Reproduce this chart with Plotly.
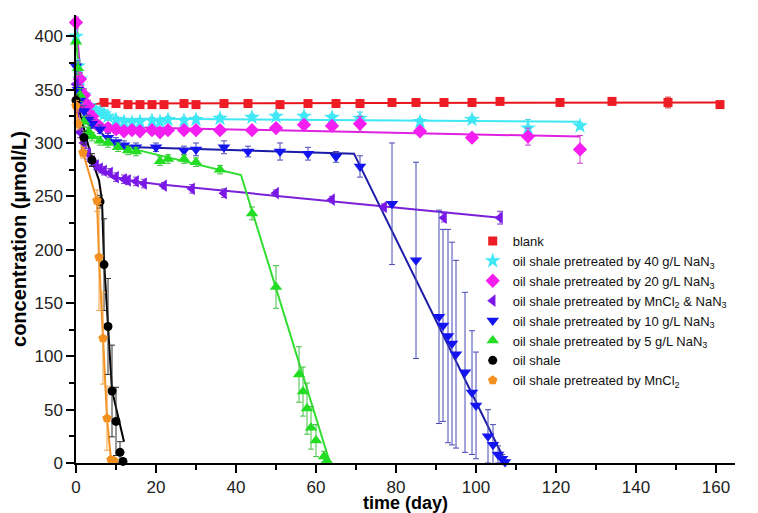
import plotly.graph_objects as go

# ---------------- data ----------------
blank_x = [1, 7, 10, 13, 16, 19, 22, 27, 30, 37, 43, 51, 58, 65, 71, 79, 85, 92, 99, 106, 121, 134, 148, 161]
blank_y = [334, 338, 337, 336, 336, 336, 336, 337, 336, 337, 337, 336, 337, 337, 337, 338, 338, 338, 338, 339, 338, 339, 338, 336]
blank_err = [3, 2, 2, 2, 2, 2, 2, 2, 2, 2, 2, 2, 2, 2, 2, 2, 2, 2, 2, 2, 2, 2, 5, 2]
blank_fit_x = [0, 6, 161]
blank_fit_y = [334, 337, 338]

na40_x = [0, 0.5, 1, 2, 3, 4, 5, 6, 7, 8, 10, 12, 14, 16, 19, 21, 23, 27, 30, 36, 44, 50, 57, 64, 71, 86, 99, 113, 126]
na40_y = [400, 372, 360, 345, 335, 331, 330, 329, 327, 325, 322, 320, 319, 320, 321, 320, 322, 321, 322, 323, 324, 325, 325, 324, 323, 320, 322, 314, 316]
na40_err = [6, 6, 5, 5, 5, 4, 4, 4, 4, 4, 3, 3, 3, 3, 3, 3, 3, 3, 3, 3, 3, 3, 3, 3, 6, 3, 3, 8, 3]
na40_fit_x = [0, 1, 2, 3, 5, 10, 126]
na40_fit_y = [405, 365, 345, 335, 328, 323, 320]

na20_x = [0, 1, 2, 3, 4, 5, 6, 8, 10, 12, 14, 16, 19, 21, 23, 27, 30, 36, 44, 50, 57, 64, 71, 86, 99, 113, 126]
na20_y = [413, 360, 345, 335, 325, 318, 315, 314, 313, 311, 312, 311, 312, 310, 312, 312, 312, 312, 312, 314, 317, 316, 318, 311, 305, 306, 294]
na20_err = [5, 6, 6, 5, 5, 4, 4, 4, 4, 3, 3, 3, 3, 3, 3, 3, 3, 3, 3, 3, 3, 3, 7, 3, 3, 8, 13]
na20_fit_x = [0, 1, 2, 3, 5, 10, 126]
na20_fit_y = [415, 370, 345, 330, 318, 315, 306]

mnna_x = [0, 0.5, 1, 2, 3, 4, 5, 6, 7, 8.5, 10, 12, 13, 15, 17, 22, 29, 37, 50, 64, 77, 92, 106]
mnna_y = [355, 335, 310, 300, 290, 283, 279, 276, 274, 272, 268, 266, 265, 264, 262, 260, 257, 253, 253, 247, 240, 230, 230]
mnna_err = [6, 6, 5, 5, 5, 4, 4, 4, 4, 4, 4, 4, 4, 4, 4, 3, 4, 4, 3, 3, 3, 4, 6]
mnna_fit_x = [0, 1, 2, 4, 7, 10, 15, 20, 106]
mnna_fit_y = [350, 310, 295, 283, 274, 268, 264, 261.5, 230]

na10_x = [0, 0.5, 1, 2, 3, 4, 6, 8, 10, 12, 15, 20, 27, 30, 37, 43, 51, 58, 65, 71, 79, 85, 90.75, 91.75, 93, 94, 95, 97.25, 99, 100, 103, 104.25, 105.5, 106.5, 107.25]
na10_y = [372, 350, 340, 330, 322, 318, 313, 305, 301, 298, 296, 296, 293, 294, 296, 292, 292, 290, 287, 278, 243, 190, 137, 129, 119, 112, 102, 85, 66, 54, 25, 17, 8, 4, 1]
na10_err = [5, 5, 5, 5, 4, 4, 4, 4, 4, 4, 4, 4, 4, 6, 6, 5, 8, 6, 5, 10, 57, 92, 100, 90, 100, 95, 88, 75, 58, 50, 25, 19, 8, 4, 2]
na10_fit_x = [0, 1, 2, 4, 7, 10, 15, 69.5, 107.5]
na10_fit_y = [372, 345, 332, 318, 307, 300, 296, 290, 0]

na5_x = [0, 0.5, 1, 2, 3, 4, 6, 8, 10.5, 13, 15, 21, 23, 27, 30, 36, 44, 50, 55.75, 56.75, 57.75, 58.75, 60, 62, 62.75]
na5_y = [395, 370, 345, 320, 310, 306, 302, 300, 296, 293, 292, 283, 285, 285, 282, 275, 234, 165, 83, 67, 51, 33, 21, 6, 2]
na5_err = [8, 6, 6, 5, 5, 4, 4, 4, 4, 4, 4, 4, 4, 4, 4, 4, 6, 20, 26, 23, 24, 20, 15, 5, 2]
na5_fit_x = [0, 1, 2, 4, 6, 41.25, 63.5]
na5_fit_y = [400, 350, 325, 310, 302, 270, 0]

os_x = [0, 2, 4, 6, 7, 8, 9, 10, 11, 11.75]
os_y = [340, 305, 284, 245, 186, 128, 67.5, 39, 10, 1.5]
os_err = [5, 6, 6, 6, 43, 45, 43, 32, 10, 2]
os_fit_x = [0, 2.25, 4, 5.75, 6.5, 7, 9, 12]
os_fit_y = [343, 309, 284, 265, 246, 190, 68, 20]

mn_x = [0, 0.5, 1.75, 5.25, 5.75, 6.75, 7.75, 8.75, 9.5]
mn_y = [335, 318, 291, 246, 193, 117, 42, 3, 2]
mn_err = [5, 5, 5, 10, 50, 43, 30, 3, 2]

names = [
    "blank",
    "oil shale pretreated by 40 g/L NaN<sub>3</sub>",
    "oil shale pretreated by 20 g/L NaN<sub>3</sub>",
    "oil shale pretreated by MnCl<sub>2</sub> &amp; NaN<sub>3</sub>",
    "oil shale pretreated by 10 g/L NaN<sub>3</sub>",
    "oil shale pretreated by 5 g/L NaN<sub>3</sub>",
    "oil shale",
    "oil shale pretreated by MnCl<sub>2</sub>",
]
x_title = "time (day)"
y_title = "concentration (\u00b5mol/L)"

# ---------------- styles ----------------
series = [
    dict(x=blank_x, y=blank_y, e=blank_err, fx=blank_fit_x, fy=blank_fit_y,
         mc="#ee1c25", lc="#e8161c", ec="#d03030", sym="square", size=9),
    dict(x=na40_x, y=na40_y, e=na40_err, fx=na40_fit_x, fy=na40_fit_y,
         mc="#3ee8f5", lc="#3ee8f5", ec="#50d0e0", sym="star", size=12),
    dict(x=na20_x, y=na20_y, e=na20_err, fx=na20_fit_x, fy=na20_fit_y,
         mc="#f51ef0", lc="#e020e0", ec="#d040d0", sym="diamond", size=11),
    dict(x=mnna_x, y=mnna_y, e=mnna_err, fx=mnna_fit_x, fy=mnna_fit_y,
         mc="#7a18e8", lc="#7a20d8", ec="#8040d0", sym="triangle-left", size=11),
    dict(x=na10_x, y=na10_y, e=na10_err, fx=na10_fit_x, fy=na10_fit_y,
         mc="#1414f0", lc="#1c1ca8", ec="#4848b8", sym="triangle-down", size=11),
    dict(x=na5_x, y=na5_y, e=na5_err, fx=na5_fit_x, fy=na5_fit_y,
         mc="#22dd22", lc="#30dd30", ec="#40c040", sym="triangle-up", size=11),
    dict(x=os_x, y=os_y, e=os_err, fx=os_fit_x, fy=os_fit_y,
         mc="#000000", lc="#000000", ec="#303030", sym="circle", size=9),
    dict(x=mn_x, y=mn_y, e=mn_err, fx=mn_x, fy=mn_y,
         mc="#f39020", lc="#f39020", ec="#f0a040", sym="pentagon", size=10),
]

fig = go.Figure()

for s in series:
    fig.add_trace(go.Scatter(
        x=s["fx"], y=s["fy"], mode="lines",
        line=dict(color=s["lc"], width=2),
        showlegend=False, hoverinfo="skip", cliponaxis=False))

for s, n in zip(series, names):
    fig.add_trace(go.Scatter(
        x=s["x"], y=s["y"], mode="markers", name=n,
        marker=dict(symbol=s["sym"], size=s["size"], color=s["mc"],
                    line=dict(width=0)),
        error_y=dict(type="data", array=s["e"], visible=True,
                     color=s["ec"], thickness=1, width=3),
        cliponaxis=False))

axis_common = dict(
    showline=True, linecolor="black", linewidth=1.5,
    ticks="outside", ticklen=8, tickwidth=1.5, tickcolor="black",
    showgrid=False, zeroline=False, mirror=False, automargin=False,
    tickfont=dict(family="Arial, Liberation Sans", size=17, color="#222222"),
)

# page body has an 8px default margin, so the figure is 750x505 placed at (8, 8)
fig.update_layout(
    width=750, height=505,
    margin=dict(l=68, r=23, t=7, b=50),
    paper_bgcolor="white", plot_bgcolor="white",
    font=dict(family="Arial, Liberation Sans", color="black"),
    xaxis=dict(
        range=[0, 164.75], tickvals=[0, 20, 40, 60, 80, 100, 120, 140, 160],
        minor=dict(ticks="outside", ticklen=5, tickwidth=1.5, tickcolor="black", dtick=10),
        **axis_common),
    yaxis=dict(
        range=[0, 420], tickvals=[0, 50, 100, 150, 200, 250, 300, 350, 400],
        minor=dict(ticks="outside", ticklen=5, tickwidth=1.5, tickcolor="black", dtick=25),
        title=dict(text="<b>" + y_title + "</b>", font=dict(size=20, family="Arial, Liberation Sans"),
                   standoff=6),
        **axis_common),
    legend=dict(
        x=0.602, y=0.529, xanchor="left", yanchor="top",
        bgcolor="rgba(0,0,0,0)", borderwidth=0,
        font=dict(family="Arial, Liberation Sans", size=13, color="#111111"),
        itemsizing="trace",
    ),
    annotations=[dict(
        text="<b>" + x_title + "</b>", xref="paper", yref="paper",
        x=0.5, y=-0.089, xanchor="center", yanchor="middle", showarrow=False,
        font=dict(size=18, family="Arial, Liberation Sans", color="black"),
    )],
)

fig.write_html("out.html")
